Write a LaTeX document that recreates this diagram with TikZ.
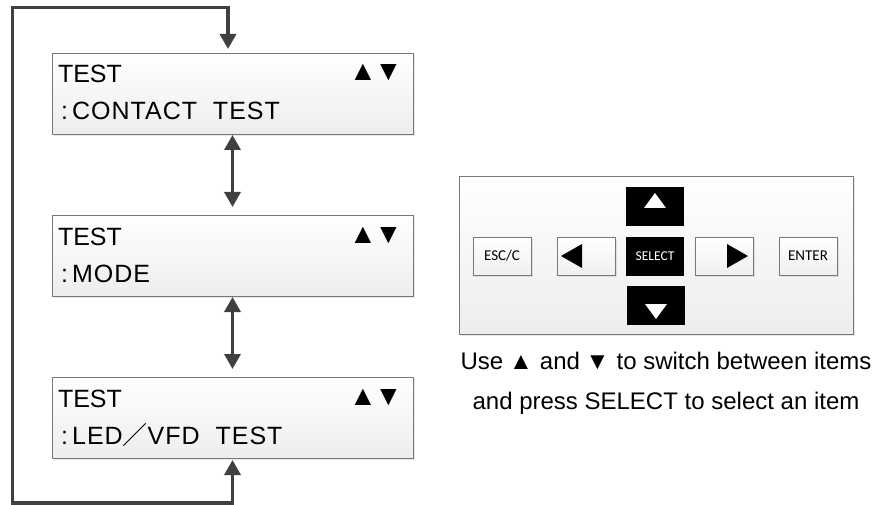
\documentclass[tikz,border=0pt]{standalone}
\usepackage{fontspec}
\setmainfont{Liberation Sans}
\newfontfamily\keyfont{Carlito}
\newfontfamily\cjkfont{Noto Sans CJK SC}
\usetikzlibrary{
  arrows.meta,
  positioning,
  shadows
}
\definecolor{wire}{RGB}{64,64,64}
\definecolor{frame}{RGB}{120,120,120}
\newcommand{\capmark}[1]{\makebox[30pt]{\fontsize{24}{24}\selectfont #1\hspace{8pt}}}

\begin{document}
\begin{tikzpicture}[
  x=1pt, y=-1pt,
  every node/.style={inner sep=0pt, outer sep=0pt},
  screen/.style={draw=frame, top color=white, bottom color=black!7,
    minimum width=361pt, minimum height=81pt,
    drop shadow={shadow xshift=2pt, shadow yshift=-2pt, opacity=0.18}},
  lcd/.style={font=\fontsize{25}{30}\selectfont, anchor=base west},
  lcdwide/.style={lcd, font=\fontsize{25}{30}\selectfont\addfontfeature{LetterSpace=4}},
  updown/.style={font=\fontsize{28}{28}\selectfont, anchor=base west},
  flow/.style={draw=wire, line width=3.5pt,
    {Triangle[width=16pt,length=15pt]}-{Triangle[width=16pt,length=15pt]}},
  btn/.style={draw=frame, top color=white, bottom color=black!6,
    minimum width=58pt, minimum height=38pt,
    drop shadow={shadow xshift=1.5pt, shadow yshift=-1.5pt, opacity=0.2},
    font=\keyfont\fontsize{15}{18}\selectfont},
  darkbtn/.style={fill=black, minimum width=58pt, minimum height=39pt,
    text=white, font=\keyfont\fontsize{13.5}{16}\selectfont},
  note/.style={font=\fontsize{24}{28}\selectfont, anchor=base}
]
\useasboundingbox (0,0) rectangle (875,505);

% Menu screens
\node[screen] (scrA) at (232.5,93.5) {};
\node[lcd] (headA) at ([xshift=6pt,yshift=-30pt]scrA.north west) {TEST};
\node[updown] (markA) at ([xshift=-64pt,yshift=-28pt]scrA.north east) {▲\hspace{-2pt}▼};
\node[lcdwide] (itemA) at ([xshift=9pt,yshift=-67pt]scrA.north west) {:\,CONTACT~~TEST};

\node[screen] (scrB) at (232.5,255.5) {};
\node[lcd] (headB) at ([xshift=6pt,yshift=-30pt]scrB.north west) {TEST};
\node[updown] (markB) at ([xshift=-64pt,yshift=-28pt]scrB.north east) {▲\hspace{-2pt}▼};
\node[lcdwide] (itemB) at ([xshift=9pt,yshift=-67pt]scrB.north west) {:\,MODE};

\node[screen] (scrC) at (232.5,417.5) {};
\node[lcd] (headC) at ([xshift=6pt,yshift=-30pt]scrC.north west) {TEST};
\node[updown] (markC) at ([xshift=-64pt,yshift=-28pt]scrC.north east) {▲\hspace{-2pt}▼};
\node[lcdwide] (itemC) at ([xshift=9pt,yshift=-67pt]scrC.north west) {:\,LED{\cjkfont ／}VFD~~TEST};

% Scrolling between screens
\draw[flow, shorten <=1pt, shorten >=8pt] (scrA.south) -- (scrB.north);
\draw[flow, shorten <=1pt, shorten >=8pt] (scrB.south) -- (scrC.north);

% Wrap-around loop
\coordinate (loopTop) at (12.5,7.5);
\coordinate (loopBot) at (12.5,503);
\draw[flow, line join=miter, shorten <=4pt, shorten >=2pt]
  ([xshift=-4.5pt]scrA.north) |- (loopTop) -- (loopBot) -| (scrC.south);

% Key panel
\node[draw=frame, top color=white, bottom color=black!7,
  minimum width=394pt, minimum height=158pt,
  drop shadow={shadow xshift=2pt, shadow yshift=-2pt, opacity=0.18}]
  (panel) at (656,255) {};

\node[btn] (esc) at (502,256) {ESC/C};
\node[btn] (left) at (586,256) {};
\node[darkbtn] (select) at (655,256.5) {SELECT};
\node[btn] (right) at (724,256) {};
\node[btn] (enter) at (808,256) {ENTER};
\node[darkbtn] (up) at (655,206.5) {};
\node[darkbtn] (down) at (656,305.5) {};

\fill ([xshift=4pt]left.west) -- ++(21,-12) -- ++(0,24) -- cycle;
\fill ([xshift=-5pt]right.east) -- ++(-21,-12) -- ++(0,24) -- cycle;
\fill[white] ([yshift=-6pt]up.north) -- ++(11,15) -- ++(-22,0) -- cycle;
\fill[white] ([yshift=6pt]down.south) -- ++(11,-15) -- ++(-22,0) -- cycle;

% Explanation
\node[note] (noteA) at (666,369) {Use \capmark{▲}and \capmark{▼}to switch between items};
\node[note] (noteB) at (666,409) {and press SELECT to select an item};

\end{tikzpicture}
\end{document}
